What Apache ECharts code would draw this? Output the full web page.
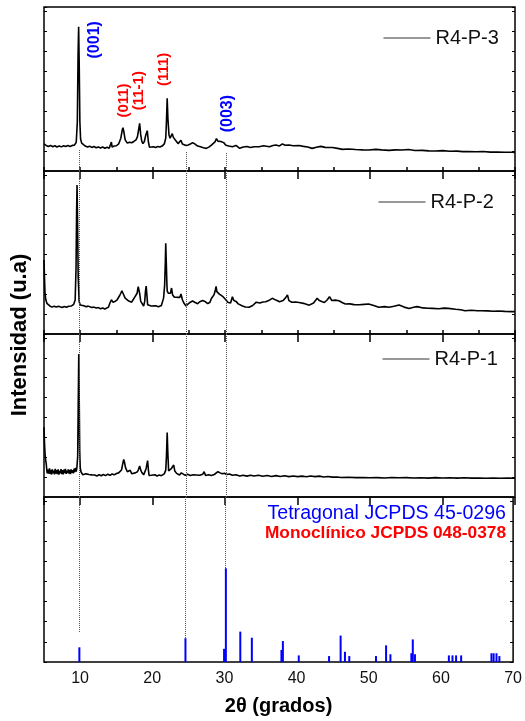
<!DOCTYPE html>
<html><head><meta charset="utf-8">
<script src="https://cdn.jsdelivr.net/npm/echarts@6/dist/echarts.min.js"></script>
<style>html,body{margin:0;padding:0;background:#fff}#c{width:525px;height:721px}</style>
</head><body><div id="c"></div>
<script>
// ---------- DATA (2θ, intensity in arbitrary units per panel) ----------
const sampleNames = ['R4-P-3', 'R4-P-2', 'R4-P-1'];
const xTicks = [10, 20, 30, 40, 50, 60, 70];

const p3Data = [[5.0,16.5],[5.3,15.6],[5.6,15.0],[5.9,15.6],[6.2,14.8],[6.5,15.4],[6.8,14.6],[7.1,15.3],[7.4,14.7],[7.7,15.4],[8.0,14.9],[8.3,15.5],[8.6,15.0],[8.9,15.6],[9.2,15.8],[9.45,17.5],[9.6,30],[9.7,70],[9.78,88],[9.86,65],[9.95,30],[10.05,19.5],[10.2,17],[10.4,16.2],[10.7,15.2],[11.0,14.6],[11.3,15.1],[11.6,14.4],[11.9,14.9],[12.2,14.2],[12.5,14.7],[12.8,14.0],[13.1,14.6],[13.4,13.9],[13.7,14.5],[14.0,13.9],[14.2,15],[14.3,17.6],[14.4,14.6],[14.7,15.2],[15.0,15.4],[15.3,16.5],[15.6,20],[15.8,25],[15.9,26.4],[16.0,24.5],[16.2,19],[16.5,17],[16.8,17.5],[17.1,17.2],[17.4,18],[17.7,19],[17.9,21],[18.05,25],[18.2,29],[18.35,22],[18.5,18],[18.65,16.7],[18.85,18],[19.05,22],[19.25,24.6],[19.4,18],[19.55,14.5],[19.8,14.2],[20.1,14.8],[20.4,14.3],[20.7,14.9],[21.0,14.6],[21.3,15.2],[21.6,16.5],[21.8,20],[21.9,30],[22.0,44.3],[22.1,32],[22.25,22],[22.4,20],[22.55,21],[22.7,22.8],[22.85,20.5],[23.0,20],[23.2,18.5],[23.5,16.7],[23.7,17.5],[23.9,18.7],[24.1,16.5],[24.3,15.7],[24.6,15.5],[24.9,15.9],[25.2,16.4],[25.5,17.3],[25.8,16.5],[26.2,15.2],[26.6,14.8],[27.0,14.2],[27.4,13.8],[27.8,14.7],[28.1,15.8],[28.3,16.7],[28.6,17.8],[28.8,19.7],[29.0,18.2],[29.2,17.5],[29.4,18],[29.6,18.7],[29.8,17.3],[30.1,15.7],[30.5,15.2],[31.0,14.8],[31.5,15.6],[32.0,13.8],[32.5,14.6],[33.0,14.9],[33.5,14.3],[34.0,14.8],[34.7,14.8],[35.3,15.4],[36.1,14.8],[36.6,15.6],[37.0,15.9],[37.5,15.3],[37.9,16.5],[38.3,15.7],[38.8,15.9],[39.4,15.4],[40.2,15.5],[40.8,15.0],[41.4,14.6],[42.0,13.8],[42.6,14.5],[43.2,15.0],[43.8,14.4],[44.8,14.3],[45.5,13.8],[46.2,13.2],[47.0,13.4],[48.0,13.1],[49.0,12.9],[49.8,12.8],[50.8,13.2],[51.6,12.9],[52.6,12.6],[53.5,12.9],[54.4,12.8],[55.3,13.1],[56.2,12.5],[57.2,12.6],[58.1,12.3],[59.0,12.2],[60.0,12.4],[61.0,12.0],[62.0,12.1],[62.8,11.8],[63.6,11.8],[64.6,11.7],[65.6,11.9],[66.6,11.5],[67.6,11.6],[68.6,11.4],[69.6,11.4],[70,11.3]];

const p2Data = [[5.0,45.4],[5.07,34],[5.14,25],[5.25,21],[5.4,18.8],[5.6,17.6],[5.8,17.2],[6.1,16.5],[6.4,17.1],[6.7,16.6],[7.0,17.0],[7.2,16.8],[7.5,16.3],[7.8,16.9],[8.1,16.4],[8.4,17.0],[8.8,17.2],[9.1,18.2],[9.3,20.9],[9.42,40],[9.5,75],[9.56,91.4],[9.63,70],[9.72,35],[9.85,20],[10.0,17.8],[10.2,16.8],[10.5,17.3],[10.8,16.7],[11.1,17.1],[11.3,17.0],[11.6,16.2],[11.9,16.5],[12.2,15.9],[12.5,16.2],[12.8,15.5],[13.1,15.9],[13.4,15.3],[13.6,15.5],[13.9,16.5],[14.1,19],[14.3,21],[14.5,19.5],[14.8,20],[15.1,21],[15.4,23.3],[15.6,25],[15.75,26.5],[15.9,25],[16.0,24],[16.2,22],[16.4,20.9],[16.7,20.2],[17.1,19.5],[17.3,21],[17.5,22.5],[17.7,22.9],[17.85,25],[18.0,29],[18.1,30],[18.2,25],[18.35,20],[18.5,18.8],[18.75,17.2],[18.9,20],[19.0,26],[19.1,29.4],[19.2,24],[19.3,18],[19.5,16.8],[19.8,17.2],[20.0,16.8],[20.4,17.3],[20.8,16.7],[21.2,17.5],[21.5,22],[21.65,30],[21.75,45],[21.8,55.6],[21.87,45],[21.95,32],[22.0,26.5],[22.15,25],[22.3,25.5],[22.45,25],[22.6,28.2],[22.75,24],[23.0,22.6],[23.2,23.5],[23.4,22.5],[23.6,21.6],[23.75,22.5],[23.9,24.5],[24.1,21],[24.3,19],[24.6,17.2],[24.9,18.5],[25.2,19.5],[25.5,20.2],[25.8,19.5],[26.2,18.6],[26.5,19.8],[26.9,20.6],[27.2,20.0],[27.4,19.5],[27.6,18.6],[27.9,19.5],[28.1,21.8],[28.3,22.9],[28.45,24],[28.6,26],[28.75,29.2],[28.85,26],[29.0,25],[29.2,24.5],[29.4,25],[29.7,22.9],[29.9,22],[30.1,21],[30.35,19.5],[30.6,18.8],[30.75,19],[31.0,22.9],[31.2,20.5],[31.5,20],[31.8,18.5],[32.0,17.5],[32.4,17.2],[32.8,16.6],[33.3,16.4],[33.8,17.5],[34.3,19.5],[34.8,19.0],[35.2,19.6],[35.6,19.8],[36.0,20.5],[36.5,21.9],[37.0,20.8],[37.5,19.8],[38.0,20.5],[38.3,22],[38.6,23.9],[38.8,20.5],[39.2,19.5],[39.7,19.6],[40.2,19.3],[40.8,18.8],[41.6,17.7],[42.2,19],[42.7,21.9],[43.0,20.5],[43.4,19.8],[43.7,19.3],[44.1,21],[44.4,22.9],[44.7,20.6],[45.2,20.8],[45.7,20.4],[46.2,19.2],[46.6,18.4],[47.2,18.5],[47.8,18.0],[48.5,17.9],[49.2,18.2],[49.8,18.4],[50.5,17.5],[51.2,16.4],[52.0,16.8],[52.6,16.4],[53.3,17.0],[54.0,17.8],[54.7,16.5],[55.4,15.7],[56.0,16.4],[56.5,16.8],[57.3,16.0],[58.0,15.8],[58.6,15.7],[59.5,15.5],[60.2,15.9],[60.8,15.7],[61.8,15.2],[62.5,14.9],[63.1,14.3],[64.0,14.6],[64.8,14.3],[65.4,14.3],[66.2,14.2],[67.0,14.0],[67.7,14.1],[68.6,13.9],[69.6,13.7],[70,13.7]];

const p1Data = [[5.0,42.7],[5.07,33],[5.14,26.8],[5.22,23],[5.3,20.7],[5.4,16],[5.45,14.5],[5.55,16.8],[5.65,14.3],[5.75,17.5],[5.85,14.2],[5.95,16.6],[6.05,13.8],[6.15,17],[6.25,14.6],[6.35,16.2],[6.45,13.9],[6.55,17.2],[6.65,14.4],[6.75,16.4],[6.85,14.0],[6.95,16.9],[7.05,13.7],[7.15,16.0],[7.25,14.5],[7.35,17.1],[7.45,14.1],[7.55,16.5],[7.65,13.9],[7.75,16.8],[7.85,14.6],[7.95,17.3],[8.05,14.2],[8.15,16.2],[8.25,14.7],[8.35,17.0],[8.45,14.3],[8.55,16.6],[8.65,14.0],[8.75,16.9],[8.85,14.8],[8.95,16.4],[9.05,14.5],[9.15,17.4],[9.25,15.2],[9.35,17.8],[9.45,15.6],[9.55,18.5],[9.65,25],[9.72,55],[9.8,87.7],[9.86,60],[9.93,28],[10.0,18],[10.1,15.5],[10.2,14.5],[10.35,13.6],[10.5,14.4],[10.6,13.5],[10.8,14.2],[11.0,13.1],[11.2,13.8],[11.4,12.9],[11.6,13.6],[11.8,12.8],[12.0,13.5],[12.3,12.9],[12.6,13.7],[12.9,13.0],[13.2,13.8],[13.5,13.1],[13.8,14.0],[14.1,13.3],[14.4,14.1],[14.7,13.6],[15.0,14.4],[15.3,14.8],[15.5,15.6],[15.7,16.6],[15.85,20],[16.0,23.1],[16.1,21.5],[16.25,18],[16.5,15.5],[16.7,14.8],[16.9,16.4],[17.1,14.3],[17.3,13.9],[17.6,14.8],[17.9,15.5],[18.05,17],[18.2,19],[18.35,16.5],[18.5,15],[18.75,13.6],[18.95,14.8],[19.1,17.5],[19.2,20],[19.3,22.3],[19.4,17],[19.5,13.2],[19.8,13.3],[20.0,13.1],[20.3,13.6],[20.6,12.9],[20.9,13.5],[21.2,13.1],[21.4,13.3],[21.6,14.2],[21.8,16.5],[21.9,25],[22.0,39.5],[22.08,28],[22.2,16],[22.4,16.5],[22.6,17.6],[22.75,18.2],[22.9,19.6],[23.05,16],[23.3,14.5],[23.7,13.5],[23.95,14.8],[24.2,15.0],[24.5,13.3],[24.8,13.9],[25.2,13.2],[25.6,13.6],[26.0,13.5],[26.5,13.3],[26.9,13.9],[27.1,15.5],[27.3,13.2],[27.7,13.7],[28.1,13.2],[28.5,13.8],[29.0,15.5],[29.3,14.8],[29.6,14.2],[29.9,14.6],[30.2,13.8],[30.6,14.1],[31.0,13.3],[31.5,13.6],[32.0,12.9],[32.5,13.4],[33.0,12.8],[33.5,13.3],[34.0,12.9],[34.6,13.3],[35.2,12.7],[35.8,13.2],[36.4,12.6],[37.0,13.1],[37.6,12.6],[38.2,13.0],[38.8,12.5],[39.4,12.9],[40.0,12.5],[40.6,12.8],[41.2,12.4],[41.8,12.9],[42.4,12.5],[43.0,12.8],[43.6,12.3],[44.2,12.6],[44.8,12.2],[45.4,12.3],[46.0,12.0],[47.0,12.1],[48.0,11.9],[49.0,12.0],[50.0,11.8],[51.0,11.9],[52.0,11.7],[53.0,12.0],[54.0,11.8],[55.0,11.9],[56.0,11.7],[57.0,11.8],[58.0,11.6],[59.0,11.9],[60.0,11.7],[61.0,11.8],[62.0,11.6],[63.0,11.8],[64.0,11.6],[65.0,11.7],[66.0,11.5],[67.0,11.7],[68.0,11.5],[69.0,11.6],[70.0,11.5]];

// Tetragonal JCPDS 45-0296 reference lines
const refPos = [9.9, 24.6, 29.95, 30.2, 32.2, 33.8, 37.9, 38.1, 40.3, 44.5, 46.1, 46.7, 47.3, 51.0, 52.4, 53.0, 55.9, 56.1, 56.4, 61.1, 61.6, 62.1, 62.8, 67.0, 67.3, 67.7, 68.1];
const refInt = [8.9, 14.4, 8, 56.8, 18.4, 14.7, 7.3, 12.7, 4, 3.6, 16, 6.2, 3.6, 3.6, 10.1, 4.7, 5.3, 13.7, 4.7, 4, 4, 4, 4, 5.3, 5.3, 5.3, 3.6];

// Peak labels (top panel)
const peakLabels = ['(001)', '(011)', '(11-1)', '(111)', '(003)'];
const peakLabelX = [12.0, 16.0, 18.1, 21.6, 30.4];
const peakLabelY = [80, 43, 49, 62, 35];
const peakPhase = ['t', 'm', 'm', 'm', 't'];

// guide (dotted) lines
const guideX = [9.86, 24.6, 30.1];
const guideTopStart = [12.8, 11.6, 11.0];
const guideBottomEnd = [17.6, 14.5, 57];

// ---------- CHART ----------
const FONT = 'Arial, "Liberation Sans", Helvetica, sans-serif';
const BLUE = '#0000ff', RED = '#ff0000';
const panels = [{top: 7, height: 164}, {top: 171, height: 163}, {top: 334, height: 163}, {top: 497, height: 165}];

const grid = panels.map(p => ({left: 44, right: 10, top: p.top, height: p.height, show: true, borderColor: '#000', borderWidth: 1.5, backgroundColor: 'transparent'}));

const xAxis = [];
const yAxis = [];
panels.forEach((p, i) => {
  const last = i === 3;
  xAxis.push({
    type: 'value', gridIndex: i, min: 5, max: 70, interval: 5,
    axisLine: {show: false}, splitLine: {show: false},
    axisTick: {show: i < 2, inside: true, length: 4, lineStyle: {color: '#000', width: 1.5}},
    axisLabel: {show: last, fontSize: 16, color: '#111', fontFamily: FONT, margin: 9,
      formatter: v => xTicks.indexOf(v) >= 0 ? String(v) : ''},
    name: last ? '2θ (grados)' : '', nameLocation: 'middle', nameGap: 34,
    nameTextStyle: {fontSize: 20, fontWeight: 'bold', color: '#000', fontFamily: FONT}
  });
  xAxis.push({
    type: 'value', gridIndex: i, min: 5, max: 70, splitNumber: 7,
    axisLine: {show: false}, splitLine: {show: false}, axisLabel: {show: false},
    axisTick: {show: !last, inside: true, length: 8, lineStyle: {color: '#000', width: 1.5}}
  });
  yAxis.push({
    type: 'value', gridIndex: i, min: 0, max: 100, interval: 12.2, position: 'left',
    axisLine: {show: false}, splitLine: {show: false}, axisLabel: {show: false},
    axisTick: {show: true, inside: true, length: 3, lineStyle: {color: '#000', width: 1}}
  });
  yAxis.push({
    type: 'value', gridIndex: i, min: 0, max: 100, interval: 12.2, position: 'right',
    axisLine: {show: false}, splitLine: {show: false}, axisLabel: {show: false},
    axisTick: {show: true, inside: true, length: 3, lineStyle: {color: '#000', width: 1}}
  });
});

const dotStyle = {type: 'dotted', color: '#555', width: 1};
function guideLines(panel) {
  return guideX.map((x, k) => {
    let y0, y1;
    if (panel === 0) { y0 = guideTopStart[k]; y1 = 0; }
    else if (panel === 3) { y0 = 100; y1 = guideBottomEnd[k]; }
    else { y0 = 100; y1 = 0; }
    return [{coord: [x, y0]}, {coord: [x, y1]}];
  });
}
function mk(panel) {
  return {silent: true, symbol: ['none', 'none'], label: {show: false}, lineStyle: dotStyle, animation: false, data: guideLines(panel)};
}

const traces = [p3Data, p2Data, p1Data];
const series = traces.map((d, i) => ({
  type: 'line', name: sampleNames[i], xAxisIndex: 2 * i, yAxisIndex: 2 * i,
  data: d, symbol: 'none', showSymbol: false, color: '#000',
  lineStyle: {color: '#000', width: 1.6}, animation: false, z: 3,
  markLine: mk(i)
}));

series.push({
  type: 'scatter', xAxisIndex: 0, yAxisIndex: 0, symbolSize: 2, silent: true,
  itemStyle: {color: 'rgba(0,0,0,0)'},
  animation: false, z: 5,
  data: peakLabels.map((t, k) => ({
    value: [peakLabelX[k], peakLabelY[k]], name: t,
    label: {show: true, position: 'inside', rotate: 90, fontWeight: 'bold', fontFamily: FONT, opacity: 1,
      textBorderWidth: 0,
      color: peakPhase[k] === 't' ? BLUE : RED, fontSize: peakPhase[k] === 't' ? 16 : 15}
  })),
  label: {show: true, position: 'inside', rotate: 90, fontWeight: 'bold', fontFamily: FONT, textBorderWidth: 0, formatter: p => p.name}
});

series.push({
  type: 'bar', xAxisIndex: 6, yAxisIndex: 6, barWidth: 2, animation: false,
  itemStyle: {color: BLUE},
  data: refPos.map((x, k) => [x, refInt[k]]),
  markLine: mk(3)
});

const legendBase = {orient: 'horizontal', itemWidth: 47, itemHeight: 14, selectedMode: false,
  lineStyle: {width: 1, color: '#333'}, itemStyle: {opacity: 0},
  textStyle: {fontSize: 20, color: '#111', fontFamily: FONT}};
const legend = [
  Object.assign({}, legendBase, {data: [sampleNames[0]], left: 378, top: 23}),
  Object.assign({}, legendBase, {data: [sampleNames[1]], left: 373, top: 187}),
  Object.assign({}, legendBase, {data: [sampleNames[2]], left: 377, top: 344})
];

const option = {
  backgroundColor: '#fff',
  animation: false,
  grid, xAxis, yAxis, series, legend,
  title: [
    {text: 'Tetragonal JCPDS 45-0296', right: 19, top: 504, padding: 0,
      textStyle: {color: BLUE, fontSize: 19.6, fontWeight: 'normal', fontFamily: FONT}},
    {text: 'Monoclínico JCPDS 048-0378', right: 19, top: 525, padding: 0,
      textStyle: {color: RED, fontSize: 17.3, fontWeight: 'bold', fontFamily: FONT}}
  ],
  graphic: [{
    type: 'text', x: 20, y: 335, rotation: Math.PI / 2,
    style: {text: 'Intensidad (u.a)', fill: '#000', fontSize: 22, fontWeight: 'bold', fontFamily: FONT, align: 'center', verticalAlign: 'middle'}
  }]
};

const chart = echarts.init(document.getElementById('c'), null, {renderer: 'canvas'});
chart.setOption(option);
</script>
</body></html>
